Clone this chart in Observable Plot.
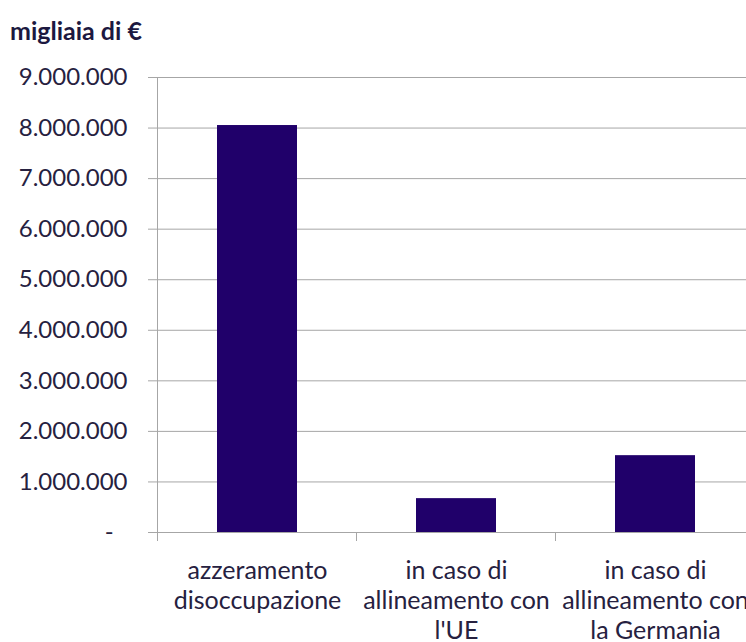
<!DOCTYPE html>
<html><head><meta charset="utf-8">
<script src="https://cdn.jsdelivr.net/npm/d3@7"></script>
<script src="https://cdn.jsdelivr.net/npm/@observablehq/plot@0.6"></script>
<style>
html,body{margin:0;padding:0;background:#fff;overflow:hidden}
#title{height:55px;box-sizing:border-box;padding:18px 0 0 10px;font:bold 25px/25px Lato;color:#1c1840}
</style></head><body>
<div id="title">migliaia di €</div>
<div id="chart"></div>
<script>
const categories = ["azzeramento disoccupazione", "in caso di allineamento con l'UE", "in caso di allineamento con la Germania"];
const categoryLabels = ["azzeramento\ndisoccupazione", "in caso di\nallineamento con\nl'UE", "in caso di\nallineamento con\nla Germania"];
const values = [8050000, 670000, 1520000];
const yTicks = [0, 1000000, 2000000, 3000000, 4000000, 5000000, 6000000, 7000000, 8000000, 9000000];
const yTickLabels = ["-\u2007", "1.000.000", "2.000.000", "3.000.000", "4.000.000", "5.000.000", "6.000.000", "7.000.000", "8.000.000", "9.000.000"];

const data = categories.map((c, i) => ({category: c, value: values[i]}));
const gray = "#a6a6a6";
const textColor = "#262140";

const chart = Plot.plot({
  width: 746,
  height: 587,
  marginLeft: 157,
  marginRight: -8,
  marginTop: 22,
  marginBottom: 110,
  style: {fontFamily: "Lato", fontSize: "24px", color: textColor, background: "white", overflow: "visible"},
  x: {domain: categories, paddingInner: 0.6, paddingOuter: 0.3, axis: null, label: null},
  y: {domain: [0, 9000000], axis: null, label: null},
  marks: [
    Plot.gridY(yTicks, {stroke: gray, strokeOpacity: 1}),
    Plot.axisY(yTicks, {tickSize: 9, tickPadding: 21, stroke: gray, fill: textColor, fontSize: 24, label: null,
      tickFormat: d => yTickLabels[yTicks.indexOf(d)]}),
    Plot.barY(data, {x: "category", y: "value", fill: "#20006a"}),
    Plot.ruleY([0], {stroke: gray}),
    Plot.axisX({tickSize: 0, tickPadding: 25, fontSize: 25, lineHeight: 1.21, fill: textColor, label: null,
      tickFormat: d => categoryLabels[categories.indexOf(d)]})
  ]
});
document.getElementById("chart").appendChild(chart);

// category boundary ticks and vertical axis line, placed with the Plot scales
const xs = chart.scale("x");
const ys = chart.scale("y");
const n = categories.length;
const step = xs.step != null ? xs.step : (xs.range[1] - xs.range[0]) / (n - xs.paddingInner + 2 * xs.paddingOuter);
const bw = xs.bandwidth != null ? xs.bandwidth : step * (1 - xs.paddingInner);
const bounds = categories.map(c => xs.apply(c) - (step - bw) / 2);
const y0 = ys.apply(0);
const yTop = ys.apply(yTicks[yTicks.length - 1]);
const g = d3.select(chart).append("g").attr("stroke", gray);
g.selectAll("line.tk").data(bounds).join("line").attr("class", "tk")
  .attr("x1", d => d).attr("x2", d => d).attr("y1", y0).attr("y2", y0 + 9);
g.append("line").attr("x1", bounds[0]).attr("x2", bounds[0]).attr("y1", yTop).attr("y2", y0);
</script>
</body></html>
